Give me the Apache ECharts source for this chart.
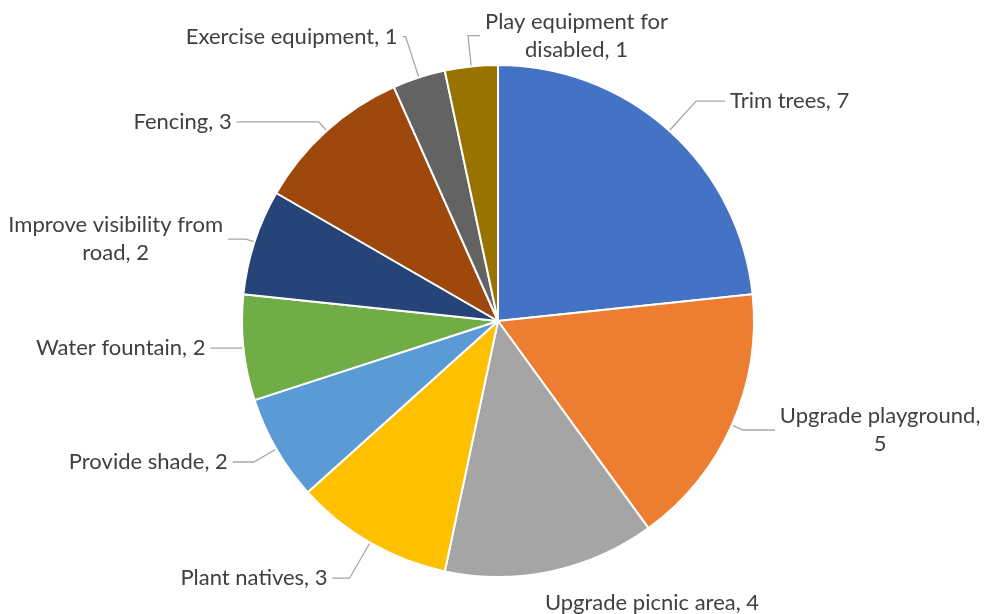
<!DOCTYPE html>
<html>
<head>
<meta charset="utf-8">
<script src="https://cdn.jsdelivr.net/npm/echarts@6/dist/echarts.min.js"></script>
<style>
html,body{margin:0;padding:0;background:#fff;}
#chart{width:984px;height:614px;}
</style>
</head>
<body>
<div id="chart"></div>
<script>
const categories = ['Trim trees', 'Upgrade playground', 'Upgrade picnic area', 'Plant natives', 'Provide shade', 'Water fountain', 'Improve visibility from road', 'Fencing', 'Exercise equipment', 'Play equipment for disabled'];
const values = [7, 5, 4, 3, 2, 2, 2, 3, 1, 1];

// styling (not data)
const colors = ['#4472C4', '#ED7D31', '#A5A5A5', '#FFC000', '#5B9BD5', '#70AD47', '#264478', '#9E480E', '#636363', '#997300'];
const wrapWords = [0, 2, 0, 0, 0, 0, 3, 0, 0, 3];
const lineLen = [40, 12, 32, 41, 26, 4, 9, 12, 43, 31];
const lineLen2 = [29, 32, 0, 17, 21, 29, 18, 82, 3, 12];
const showLine = [true, true, false, true, true, true, true, true, true, true];

const FONT = 'Lato';
const FS = 22;
const chart = echarts.init(document.getElementById('chart'));
chart.setOption({
  animation: false,
  series: [{
    type: 'pie',
    center: [498, 321],
    radius: 256,
    startAngle: 90,
    clockwise: true,
    avoidLabelOverlap: false,
    itemStyle: { borderColor: '#fff', borderWidth: 2 },
    label: {
      show: true,
      position: 'outside',
      color: '#404040',
      fontFamily: FONT,
      fontSize: FS,
      lineHeight: 28,
      formatter: function (p) {
        const txt = p.name + ', ' + p.value;
        const n = wrapWords[p.dataIndex];
        if (!n) return '{t|' + txt + '}';
        const w = txt.split(' ');
        return '{t|' + w.slice(0, n).join(' ') + '}\n{t|' + w.slice(n).join(' ') + '}';
      },
      rich: {
        t: { align: 'center', color: '#404040', fontFamily: FONT, fontSize: FS, lineHeight: 28 }
      }
    },
    labelLine: {
      show: true,
      lineStyle: { color: '#A6A6A6', width: 1.3 }
    },
    labelLayout: function (p) {
      const r = p.labelRect;
      if (p.dataIndex === 2) {
        return { x: r.x - 18, y: r.y + r.height / 2, align: 'left', verticalAlign: 'middle' };
      }
      if (p.dataIndex === 9 && p.labelLinePoints) {
        const pts = p.labelLinePoints;
        const p1 = pts[1], p2 = pts[2];
        const endX = p1[0] + Math.abs(p1[0] - p2[0]);
        return {
          x: endX + 5, y: p1[1], align: 'left', verticalAlign: 'middle',
          labelLinePoints: [pts[0], p1, [endX, p1[1]]]
        };
      }
      return {};
    },
    data: categories.map((c, i) => ({
      name: c,
      value: values[i],
      itemStyle: { color: colors[i] },
      labelLine: { show: showLine[i], length: lineLen[i], length2: lineLen2[i] }
    }))
  }]
});
</script>
</body>
</html>
